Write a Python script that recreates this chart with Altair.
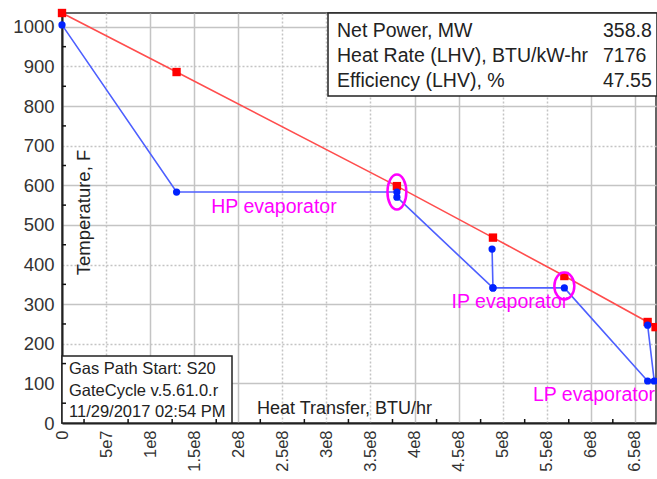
import altair as alt
import pandas as pd

# Gas-side temperature profile: cumulative heat transferred vs temperature
gas_q = [0, 1.30e8, 3.80e8, 4.89e8, 5.70e8, 6.645e8, 6.735e8]
gas_t = [1035, 886, 598, 468, 371, 255, 242]

# Water/steam-side path through the HRSG sections, in drawing order
water_q = [0, 1.30e8, 3.80e8, 3.80e8, 4.89e8, 4.88e8, 4.89e8, 5.70e8, 6.645e8, 6.72e8, 6.645e8]
water_t = [1005, 583, 583, 570, 341, 439, 341, 341, 106, 106, 247]

# Pinch points circled on the chart
pinch_q = [3.80e8, 5.70e8]
pinch_t = [583, 346]

# Evaporator labels
evap_names = ["HP evaporator", "IP evaporator", "LP evaporator"]
evap_q = [2.405e8, 5.083e8, 6.036e8]
evap_t = [545, 305, 71]

# Axis ticks
x_ticks = [i * 50000000 for i in range(14)]
x_tick_labels = ["0", "5e7", "1e8", "1.5e8", "2e8", "2.5e8", "3e8", "3.5e8",
                 "4e8", "4.5e8", "5e8", "5.5e8", "6e8", "6.5e8"]
x_dotted = [50000000, 250000000, 300000000, 350000000, 500000000, 550000000]
x_minor = [25000000 + i * 50000000 for i in range(13)]
y_ticks = list(range(0, 1001, 100))
y_dotted = [900, 700, 400, 200]
y_minor = list(range(50, 1000, 100))

# Summary panel text
info_labels = ["Net Power, MW", "Heat Rate (LHV), BTU/kW-hr", "Efficiency (LHV), %"]
info_values = ["358.8", "7176", "47.55"]
stamp_lines = ["Gas Path Start: S20", "GateCycle v.5.61.0.r", "11/29/2017 02:54 PM"]

FONT = "Liberation Sans"
W, H = 594, 410
RED_LINE, RED = "#ff4d4d", "#ff0000"
BLUE_LINE, BLUE = "#4d5fff", "#0022ff"
MAGENTA = "#ff00ff"
GRID = "#c4c4c4"

gas = pd.DataFrame({"q": gas_q, "t": gas_t})
water = pd.DataFrame({"q": water_q, "t": water_t, "order": range(len(water_q))})
pinch = pd.DataFrame({"q": pinch_q, "t": pinch_t})
evap = pd.DataFrame({"q": evap_q, "t": evap_t, "name": evap_names})

x_scale = alt.Scale(domain=[0, 6.74e8], nice=False, zero=False)
y_scale = alt.Scale(domain=[0, 1035], nice=False, zero=False)

label_js = "[" + ",".join("'%s'" % s for s in x_tick_labels) + "]"

x_axis = alt.Axis(
    values=x_ticks,
    labelExpr=label_js + "[round(datum.value / 50000000)]",
    labelAngle=270, labelAlign="right", labelBaseline="middle",
    labelPadding=7, labelFontSize=16.5, labelFont=FONT, labelColor="#333",
    tickSize=0, domainColor="#222", domainWidth=2,
    gridColor=GRID, gridWidth=1.5,
    gridDash={"condition": {"test": "indexof(%s, datum.value) >= 0" % x_dotted, "value": [2, 2]},
              "value": []},
    title="Heat Transfer, BTU/hr", titleX=282, titleY=-15,
    titleAlign="center", titleBaseline="middle", titleFont=FONT,
    titleFontSize=18, titleFontWeight="normal", titleColor="#222",
)
y_axis = alt.Axis(
    values=y_ticks, format="d", labelFontSize=18.5, labelFont=FONT, labelColor="#333",
    labelPadding=8, tickSize=0, domainColor="#222", domainWidth=2,
    gridColor=GRID, gridWidth=1.5,
    gridDash={"condition": {"test": "indexof(%s, datum.value) >= 0" % y_dotted, "value": [2, 2]},
              "value": []},
    title="Temperature, F", titleAngle=270, titleX=21, titleY=199,
    titleAlign="center", titleBaseline="middle", titleFont=FONT,
    titleFontSize=18.5, titleFontWeight="normal", titleColor="#222",
)

X = alt.X("q:Q", scale=x_scale, axis=x_axis)
Y = alt.Y("t:Q", scale=y_scale, axis=y_axis)

gas_line = alt.Chart(gas).mark_line(color=RED_LINE, strokeWidth=1.6).encode(x=X, y=Y)
gas_pts = alt.Chart(gas).mark_square(color=RED, size=70, opacity=1).encode(x=X, y=Y)

water_line = alt.Chart(water).mark_line(color=BLUE_LINE, strokeWidth=1.6).encode(
    x=X, y=Y, order="order:Q")
water_pts = alt.Chart(water).mark_circle(color=BLUE, size=52, opacity=1).encode(x=X, y=Y)


def ellipse(rx):
    return ("M -%.3f,0 A %.3f,1 0 1,0 %.3f,0 A %.3f,1 0 1,0 -%.3f,0 Z"
            % (rx, rx, rx, rx, rx))


pinch_hp = alt.Chart(pinch.iloc[[0]]).mark_point(
    shape=ellipse(0.54), size=1225, filled=False, stroke=MAGENTA, strokeWidth=2.5, opacity=1
).encode(x=X, y=Y)
pinch_ip = alt.Chart(pinch.iloc[[1]]).mark_point(
    shape=ellipse(0.74), size=729, filled=False, stroke=MAGENTA, strokeWidth=2.5, opacity=1
).encode(x=X, y=Y)

evap_text = alt.Chart(evap).mark_text(
    color=MAGENTA, font=FONT, fontSize=19.5, align="center", baseline="middle"
).encode(x=X, y=Y, text="name:N")

one = pd.DataFrame({"k": [0]})

# Summary panel in the top-right corner
info_box = alt.Chart(one).mark_rect(fill="white", stroke="#222", strokeWidth=1.5).encode(
    x=alt.value(266), x2=alt.value(W + 1), y=alt.value(0), y2=alt.value(83))
info_layers = [info_box]
for i, (lab, val) in enumerate(zip(info_labels, info_values)):
    yy = 18 + 25 * i
    info_layers.append(alt.Chart(one).mark_text(
        text=lab, font=FONT, fontSize=19.5, color="#222", align="left", baseline="middle"
    ).encode(x=alt.value(275), y=alt.value(yy)))
    info_layers.append(alt.Chart(one).mark_text(
        text=val, font=FONT, fontSize=19.5, color="#222", align="left", baseline="middle"
    ).encode(x=alt.value(541), y=alt.value(yy)))

# Run stamp in the bottom-left corner
stamp_box = alt.Chart(one).mark_rect(fill="white", stroke="#222", strokeWidth=1.5).encode(
    x=alt.value(0), x2=alt.value(170), y=alt.value(343), y2=alt.value(H))
stamp_layers = [stamp_box]
for i, line in enumerate(stamp_lines):
    stamp_layers.append(alt.Chart(one).mark_text(
        text=line, font=FONT, fontSize=16.5, color="#222", align="left", baseline="middle"
    ).encode(x=alt.value(7), y=alt.value(356 + 21.5 * i)))

# Inward minor ticks on both axes
y_minor_ticks = alt.Chart(pd.DataFrame({"t": y_minor})).mark_rule(
    color="#111", strokeWidth=1.5
).encode(y=Y, x=alt.value(0), x2=alt.value(4))
x_minor_ticks = alt.Chart(pd.DataFrame({"q": x_minor})).mark_rule(
    color="#111", strokeWidth=1.5
).encode(x=X, y=alt.value(H), y2=alt.value(H - 4))

chart = alt.layer(
    gas_line, water_line, gas_pts, water_pts, pinch_hp, pinch_ip, evap_text,
    *info_layers, *stamp_layers, y_minor_ticks, x_minor_ticks,
).properties(
    width=W, height=H,
    autosize=alt.AutoSizeParams(type="none"),
    padding={"left": 62, "top": 13, "right": 1, "bottom": 56},
    background="white",
).configure_view(stroke="#333", strokeWidth=1.5)

chart.save("out.html", embed_options={"renderer": "svg", "actions": False})
